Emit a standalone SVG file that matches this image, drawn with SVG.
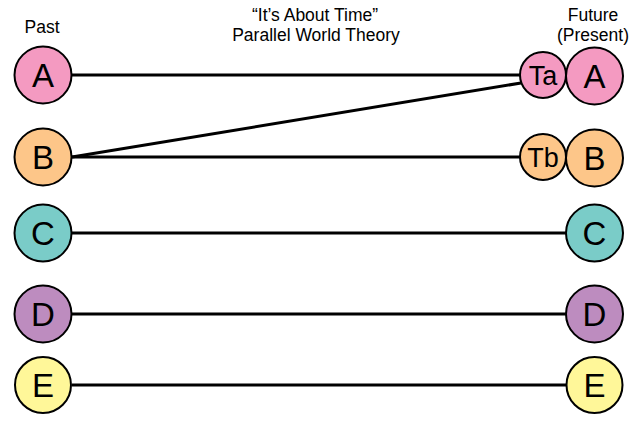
<svg xmlns="http://www.w3.org/2000/svg" width="640" height="427" viewBox="0 0 640 427">
<style>
  text { font-family: "Liberation Sans", Arial, sans-serif; fill: #000; }
  .hdr { font-size: 17.5px; text-anchor: middle; }
  .big { font-size: 33px; text-anchor: middle; }
  .sm { font-size: 27px; text-anchor: middle; }
  circle { stroke: #000; stroke-width: 2; }
  .a { fill: #F49AC1; }
  .b { fill: #FDC689; }
  .c { fill: #7ACCC8; }
  .d { fill: #BD8CBF; }
  .e { fill: #FFF799; }
  .conn line { stroke: #000; stroke-width: 3; }
</style>
<rect width="640" height="427" fill="#fff"/>
<g id="labels">
  <text class="hdr" x="42" y="33">Past</text>
  <text class="hdr" x="315" y="21">“It’s About Time”</text>
  <text class="hdr" x="316" y="41">Parallel World Theory</text>
  <text class="hdr" x="593" y="21">Future</text>
  <text class="hdr" x="593" y="41">(Present)</text>
</g>
<g id="connectors" class="conn">
  <line x1="72" y1="75" x2="520" y2="75"/>
  <line x1="72" y1="157" x2="520" y2="157"/>
  <line x1="72" y1="157" x2="521" y2="83" stroke-width="3.5"/>
  <line x1="72" y1="233" x2="566" y2="233"/>
  <line x1="72" y1="314" x2="566" y2="314"/>
  <line x1="72" y1="385" x2="566" y2="385"/>
</g>
<g id="past-A"><circle class="a" cx="43" cy="75" r="28.5"/><text class="big" x="43" y="87">A</text></g>
<g id="past-B"><circle class="b" cx="43" cy="157" r="28.5"/><text class="big" x="43" y="169">B</text></g>
<g id="past-C"><circle class="c" cx="43" cy="233" r="28.5"/><text class="big" x="43" y="245">C</text></g>
<g id="past-D"><circle class="d" cx="43" cy="314" r="28.5"/><text class="big" x="43" y="326">D</text></g>
<g id="past-E"><circle class="e" cx="43" cy="385" r="28"/><text class="big" x="43" y="397">E</text></g>
<g id="Ta"><circle class="a" cx="543" cy="75" r="23"/><text class="sm" x="543" y="85">Ta</text></g>
<g id="future-A"><circle class="a" cx="594.5" cy="76" r="28.5"/><text class="big" x="594.5" y="88">A</text></g>
<g id="Tb"><circle class="b" cx="543" cy="157" r="23"/><text class="sm" x="543" y="167">Tb</text></g>
<g id="future-B"><circle class="b" cx="594.5" cy="158" r="28.5"/><text class="big" x="594.5" y="170">B</text></g>
<g id="future-C"><circle class="c" cx="594.5" cy="233" r="28.5"/><text class="big" x="594.5" y="245">C</text></g>
<g id="future-D"><circle class="d" cx="594.5" cy="314" r="28.5"/><text class="big" x="594.5" y="326">D</text></g>
<g id="future-E"><circle class="e" cx="594.5" cy="385" r="28"/><text class="big" x="594.5" y="397">E</text></g>
</svg>
